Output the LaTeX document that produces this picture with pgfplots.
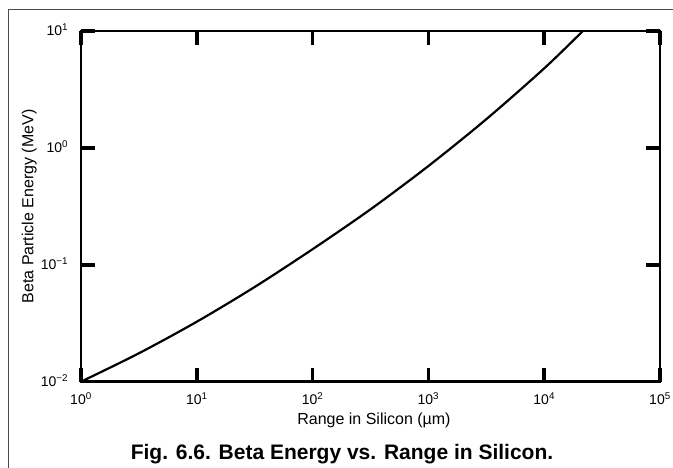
\documentclass[border=0pt]{standalone}
\usepackage{fontspec}
\setmainfont{Liberation Sans}
\usepackage{pgfplots}
\pgfplotsset{compat=1.18}
\begin{document}
\begin{tikzpicture}[x=1pt,y=1pt]
  % page frame: 673 x 468 units, axis box lower-left at the origin
  \useasboundingbox (-81,-86.3) rectangle (592,381.7);
  \draw[line width=1pt, black!70] (-72,-86.3) -- (-72,372.2) -- (592,372.2);
  \begin{axis}[
      at={(0,0)}, anchor=south west,
      scale only axis,
      width=579pt, height=350.7pt,
      xmode=log, ymode=log,
      xmin=1, xmax=1e5, ymin=0.01, ymax=10,
      xminorticks=false, yminorticks=false,
      axis line style={line width=2.5pt},
      tick align=inside,
      major tick length=14pt,
      major tick style={line width=3.5pt, black},
      xtick={1,10,100,1000,10000,100000},
      xticklabels={10\textsuperscript{0},10\textsuperscript{1},10\textsuperscript{2},10\textsuperscript{3},10\textsuperscript{4},10\textsuperscript{5}},
      ytick={0.01,0.1,1,10},
      yticklabels={10\textsuperscript{−2},10\textsuperscript{−1},10\textsuperscript{0},10\textsuperscript{1}},
      tick label style={font=\fontsize{14}{16}\selectfont},
      xticklabel style={anchor=base, yshift=-23.3pt},
      yticklabel style={anchor=base east, xshift=-9.3pt, yshift=-5pt},
      xlabel={Range in Silicon (µm)},
      ylabel={Beta Particle Energy (MeV)},
      label style={font=\fontsize{16}{18}\selectfont},
      xlabel style={at={(axis description cs:0.506,-0.1215)}, anchor=base},
      ylabel style={at={(axis description cs:-0.0824,0.5)}, anchor=base, rotate=0},
    ]
    \addplot[black, line width=2.2pt, smooth] coordinates {
      (1,0.01) (3.16,0.0175) (10,0.0326) (31.6,0.0646) (100,0.136)
      (316,0.298) (1000,0.70) (3162,1.76) (10000,4.79) (21580,10)
    };
  \end{axis}
  \node[anchor=base, font=\bfseries\fontsize{21}{24}\selectfont] at (261,-78.3)
    {Fig. 6.6. Beta Energy vs. Range in Silicon.};
\end{tikzpicture}
\end{document}
